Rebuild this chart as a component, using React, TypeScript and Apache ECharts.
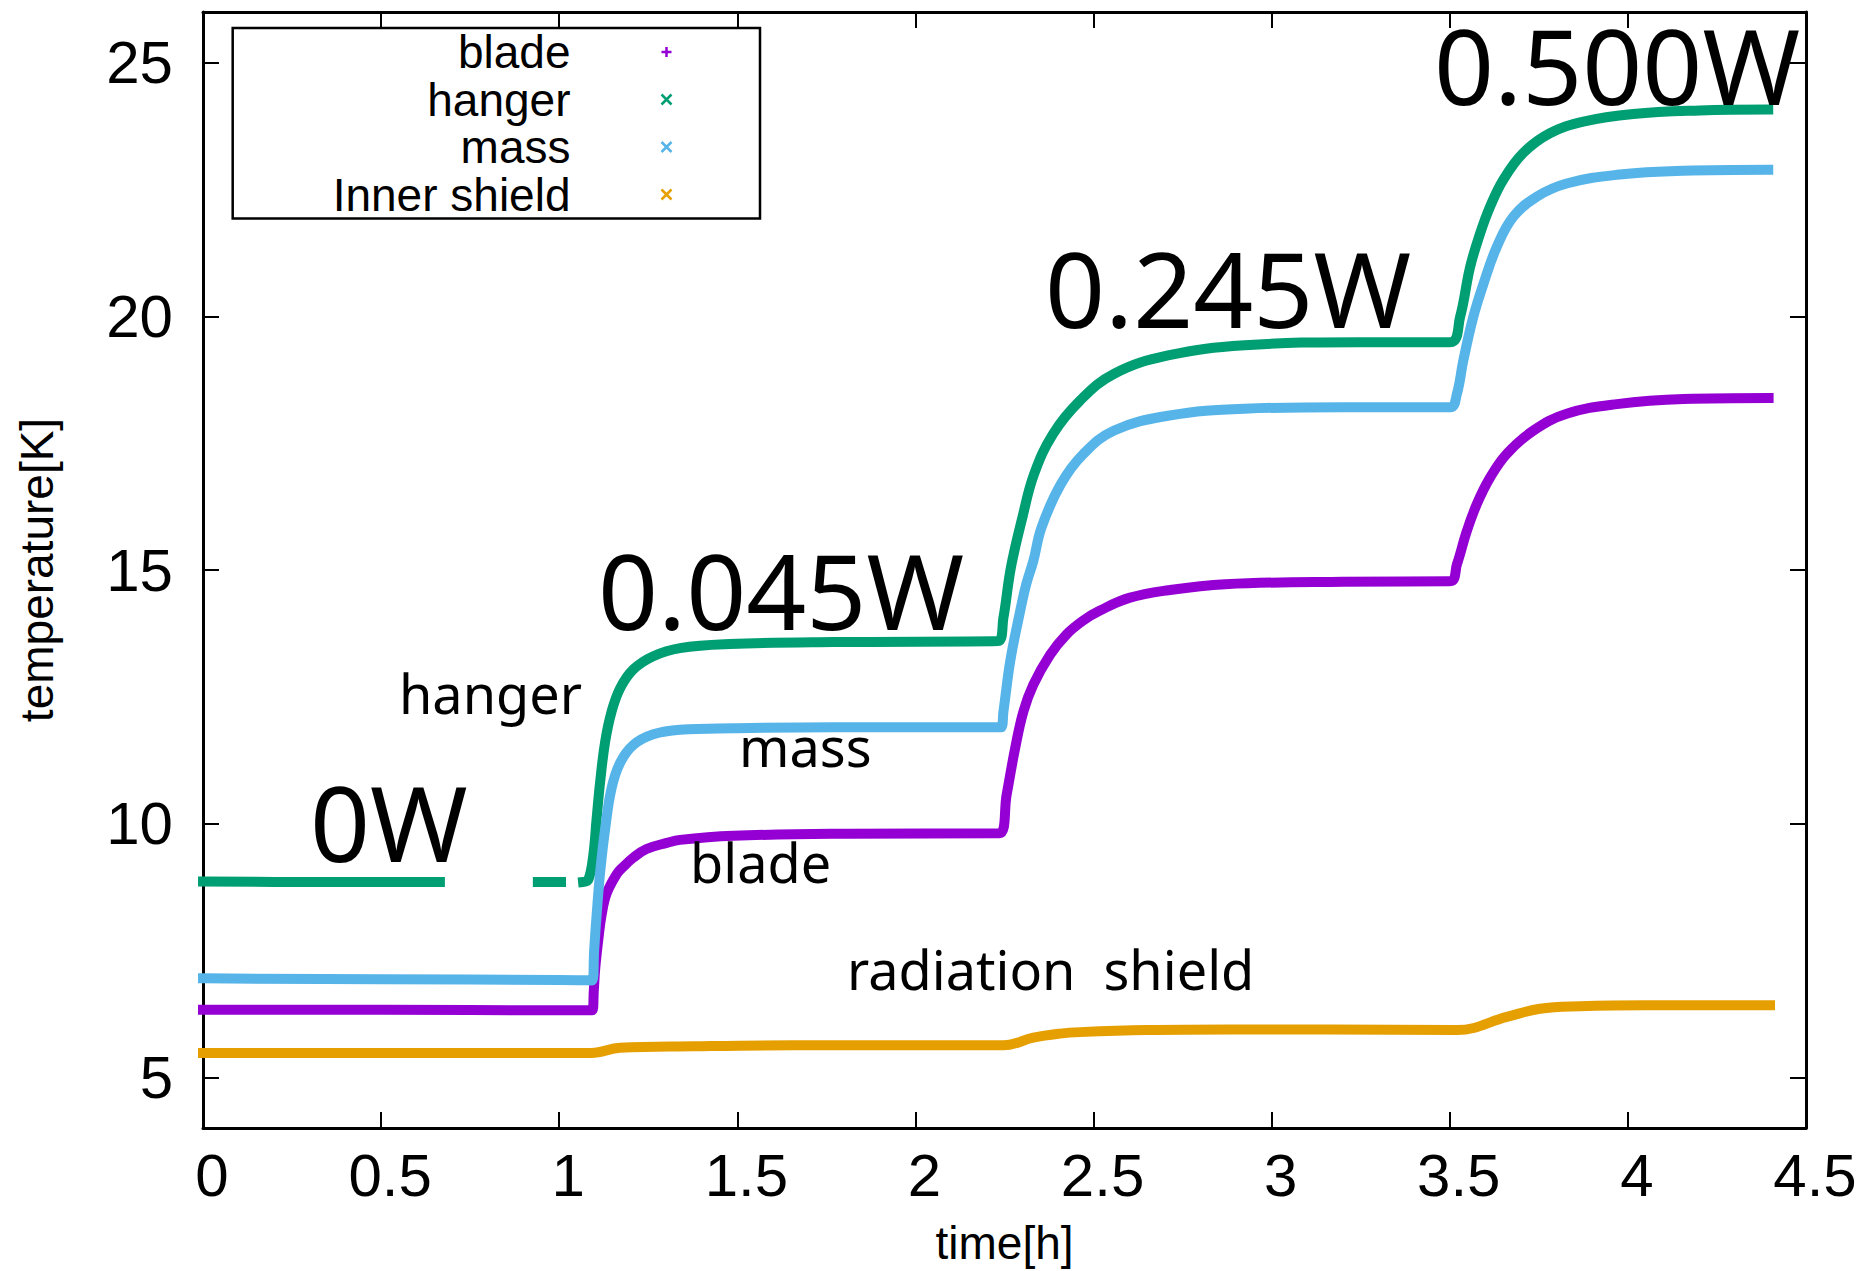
import React, { useEffect, useRef } from 'react';
import * as echarts from 'echarts';

const W = 1873;
const H = 1271;

// ---------------- data ----------------
const seriesNames = ['blade', 'hanger', 'mass', 'Inner shield'];
const seriesColors = ['#9400d3', '#009e73', '#56b4e9', '#e69f00'];

const xTickLabels = ['0', '0.5', '1', '1.5', '2', '2.5', '3', '3.5', '4', '4.5'];
const yTickValues = [5, 10, 15, 20, 25];

const bladeData: [number, number][] = [
  [0, 6.33], [0.5, 6.33], [1.0, 6.32], [1.093, 6.32], [1.097, 6.7], [1.101, 7.14],
  [1.11, 7.73], [1.119, 8.2], [1.133, 8.62], [1.161, 9.0], [1.18, 9.15], [1.208, 9.33],
  [1.245, 9.5], [1.302, 9.62], [1.339, 9.68], [1.489, 9.76], [1.77, 9.8], [2.236, 9.81],
  [2.256, 10.57], [2.28, 11.49], [2.303, 12.21], [2.331, 12.74], [2.378, 13.33], [2.424, 13.73],
  [2.47, 14.0], [2.518, 14.2], [2.6, 14.45], [2.709, 14.6], [2.87, 14.72], [3.2, 14.77],
  [3.501, 14.78], [3.52, 15.11], [3.548, 15.77], [3.576, 16.3], [3.613, 16.82], [3.66, 17.29],
  [3.735, 17.75], [3.828, 18.08], [3.969, 18.27], [4.156, 18.37], [4.395, 18.39],
];

const hangerData: (number | string)[][] = [
  [0, 8.86], [0.3, 8.85], [0.665, 8.85], [0.8, '-'],
  [0.94, 8.85], [1.005, 8.85], [1.04, '-'],
  [1.067, 8.85], [1.082, 8.9], [1.096, 9.4], [1.105, 10.1], [1.115, 10.83], [1.129, 11.62],
  [1.147, 12.21], [1.171, 12.67], [1.208, 13.04], [1.264, 13.3], [1.339, 13.46], [1.479, 13.54],
  [1.77, 13.58], [2.232, 13.6], [2.247, 14.06], [2.268, 15.05], [2.3, 16.03], [2.333, 16.89],
  [2.386, 17.68], [2.462, 18.34], [2.558, 18.87], [2.709, 19.23], [2.924, 19.43], [3.245, 19.49],
  [3.501, 19.49], [3.529, 19.99], [3.557, 20.97], [3.585, 21.63], [3.613, 22.16], [3.65, 22.69],
  [3.706, 23.22], [3.781, 23.61], [3.875, 23.84], [4.015, 23.99], [4.202, 24.06], [4.394, 24.08],
];

const massData: [number, number][] = [
  [0, 6.95], [0.5, 6.93], [1.0, 6.92], [1.093, 6.91], [1.098, 7.5], [1.105, 8.2],
  [1.115, 9.05], [1.129, 9.9], [1.147, 10.7], [1.171, 11.2], [1.208, 11.55], [1.264, 11.76],
  [1.339, 11.85], [1.489, 11.88], [1.77, 11.9], [2.24, 11.9], [2.247, 12.21], [2.266, 13.2],
  [2.294, 14.19], [2.311, 14.72], [2.331, 15.18], [2.354, 15.84], [2.408, 16.69], [2.472, 17.29],
  [2.558, 17.75], [2.709, 18.04], [2.924, 18.18], [3.2, 18.21], [3.501, 18.21], [3.52, 18.47],
  [3.538, 19.13], [3.566, 19.99], [3.595, 20.65], [3.632, 21.37], [3.678, 21.96], [3.744, 22.36],
  [3.828, 22.62], [3.969, 22.79], [4.156, 22.87], [4.394, 22.89],
];

const shieldData: [number, number][] = [
  [0, 5.48], [1.09, 5.48], [1.171, 5.58], [1.376, 5.61], [1.657, 5.63], [2.247, 5.63],
  [2.331, 5.78], [2.406, 5.86], [2.462, 5.89], [2.649, 5.93], [2.883, 5.94], [3.164, 5.94],
  [3.52, 5.93], [3.66, 6.19], [3.753, 6.35], [3.866, 6.4], [4.053, 6.42], [4.399, 6.42],
];

const powerLabels = ['0W', '0.045W', '0.245W', '0.500W'];
const curveLabels = ['hanger', 'mass', 'blade', 'radiation \u00a0shield'];

// ---------------- layout / style ----------------
const AXIS_FONT = '"Liberation Sans", Arial, Helvetica, sans-serif';
const NOTE_FONT = '"Noto Sans", "Open Sans", sans-serif';

const powerPos: [number, number][] = [[310, 821], [598, 589], [1045, 287], [1434, 64]];
const curvePos: [number, number][] = [[399, 693], [739, 746], [690, 862], [847, 969]];

const plusIcon = 'path://M0,0M96,12M91,1L91,11M86,6L96,6';
const crossIcon = 'path://M0,0M96,12M86,1L96,11M96,1L86,11';

function buildOption() {
  const datasets = [bladeData, hangerData, massData, shieldData];
  const axisLine = { show: true, onZero: false, lineStyle: { color: '#000', width: 3 } };
  const axisTickBase = { show: true, inside: true, length: 16, lineStyle: { color: '#000', width: 2 } };

  return {
    animation: false,
    backgroundColor: '#ffffff',
    textStyle: { fontFamily: AXIS_FONT },
    grid: { left: 203, top: 12, right: W - 1806, bottom: H - 1128, containLabel: false, outerBoundsMode: 'none' },
    legend: {
      orient: 'vertical',
      right: W - 760,
      top: 28,
      align: 'right',
      itemWidth: 96,
      itemHeight: 12,
      itemGap: 1.5,
      padding: [1, 86, 1, 100],
      borderColor: '#000',
      borderWidth: 2.5,
      borderRadius: 0,
      backgroundColor: '#ffffff',
      selectedMode: false,
      textStyle: { fontFamily: AXIS_FONT, fontSize: 46, color: '#000', lineHeight: 46 },
      data: seriesNames.map((n, i) => ({
        name: n,
        icon: i === 0 ? plusIcon : crossIcon,
        itemStyle: { color: 'none', borderColor: seriesColors[i], borderWidth: 2.5 },
      })),
    },
    xAxis: [
      {
        type: 'value', position: 'bottom', min: 0, max: 4.5, interval: 0.5,
        name: 'time[h]', nameLocation: 'middle', nameGap: 92, nameMoveOverlap: false,
        nameTextStyle: { fontFamily: AXIS_FONT, fontSize: 46, color: '#000' },
        axisLine, axisTick: axisTickBase,
        axisLabel: {
          show: true, margin: 17, color: '#000', fontSize: 60, fontFamily: AXIS_FONT,
          showMinLabel: true, showMaxLabel: true, hideOverlap: false, padding: [0, 0, 0, 18],
          formatter: (v: number) => {
            const idx = Math.round(v / 0.5);
            return xTickLabels[idx] ?? String(v);
          },
        },
        splitLine: { show: false },
      },
      {
        type: 'value', position: 'top', min: 0, max: 4.5, interval: 0.5,
        axisLine, axisTick: axisTickBase, axisLabel: { show: false }, splitLine: { show: false },
      },
    ],
    yAxis: [
      {
        type: 'value', position: 'left', min: 4, max: 26,
        name: 'temperature[K]', nameLocation: 'middle', nameGap: 143, nameRotate: 90, nameMoveOverlap: false,
        nameTextStyle: { fontFamily: AXIS_FONT, fontSize: 46, color: '#000' },
        axisLine, axisTick: { ...axisTickBase, customValues: yTickValues },
        axisLabel: {
          show: true, margin: 30, color: '#000', fontSize: 60, fontFamily: AXIS_FONT,
          customValues: yTickValues, hideOverlap: false,
        },
        splitLine: { show: false },
      },
      {
        type: 'value', position: 'right', min: 4, max: 26,
        axisLine, axisTick: { ...axisTickBase, customValues: yTickValues },
        axisLabel: { show: false, customValues: yTickValues }, splitLine: { show: false },
      },
    ],
    series: seriesNames.map((n, i) => ({
      type: 'line',
      name: n,
      xAxisIndex: 0,
      yAxisIndex: 0,
      data: datasets[i],
      symbol: 'none',
      showSymbol: false,
      connectNulls: false,
      clip: false,
      silent: true,
      smooth: 0.4,
      color: seriesColors[i],
      itemStyle: { color: seriesColors[i] },
      lineStyle: { color: seriesColors[i], width: 10, cap: 'square', join: 'round' },
      emphasis: { disabled: true },
      z: 2 + i,
    })),
    graphic: [
      ...powerLabels.map((t, i) => ({
        type: 'text', x: powerPos[i][0], y: powerPos[i][1], z: 20, silent: true,
        style: {
          text: t, fontSize: 105, lineHeight: 60, fontFamily: NOTE_FONT, fill: '#000',
          align: 'left', verticalAlign: 'middle', textAlign: 'left', textVerticalAlign: 'middle',
        },
      })),
      ...curveLabels.map((t, i) => ({
        type: 'text', x: curvePos[i][0], y: curvePos[i][1], z: 20, silent: true,
        style: {
          text: t, fontSize: 54, fontFamily: NOTE_FONT, fill: '#000',
          align: 'left', verticalAlign: 'middle', textAlign: 'left', textVerticalAlign: 'middle',
        },
      })),
    ],
  };
}

export default function App() {
  const ref = useRef<HTMLDivElement | null>(null);
  useEffect(() => {
    if (!ref.current) return;
    const chart = echarts.init(ref.current, undefined, { renderer: 'svg', width: W, height: H });
    chart.setOption(buildOption() as any);
    return () => {
      chart.dispose();
    };
  }, []);
  return (
    <div
      ref={ref}
      style={{ position: 'absolute', left: 0, top: 0, width: W, height: H, background: '#fff' }}
    />
  );
}
